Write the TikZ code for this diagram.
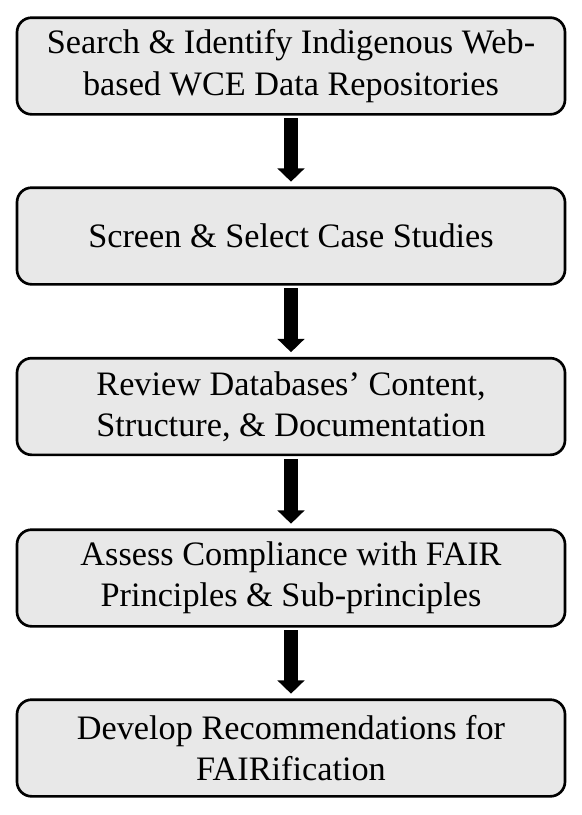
\documentclass[tikz,border=0pt]{standalone}
\usepackage{fontspec}
\setmainfont{Liberation Serif}
\usetikzlibrary{arrows.meta}

\tikzset{
  stepbox/.style={draw=black, line width=2pt, rounded corners=11pt, fill=gray!18,
    minimum width=411pt, minimum height=72.5pt, align=center,
    font=\fontsize{25.7}{31}\selectfont},
  flow/.style={line width=10pt, -{Triangle[width=20pt,length=10pt]},
    shorten <=2pt, shorten >=3.5pt}
}

\begin{document}
\begin{tikzpicture}[x=0.75pt, y=-0.75pt]
  \useasboundingbox (0,0) rectangle (582,815);
  \node[stepbox] (search) at (291, 66) {Search \& Identify Indigenous Web-\\based WCE Data Repositories};
  \node[stepbox] (screen) at (291, 236) {Screen \& Select Case Studies};
  \node[stepbox] (review) at (291, 406.5) {Review Databases’ Content,\\Structure, \& Documentation};
  \node[stepbox] (assess) at (291, 578) {Assess Compliance with FAIR\\Principles \& Sub-principles};
  \node[stepbox] (develop) at (291, 748) {Develop Recommendations for\\FAIRification};
  \draw[flow] (search) -- (screen);
  \draw[flow] (screen) -- (review);
  \draw[flow] (review) -- (assess);
  \draw[flow] (assess) -- (develop);
\end{tikzpicture}
\end{document}
